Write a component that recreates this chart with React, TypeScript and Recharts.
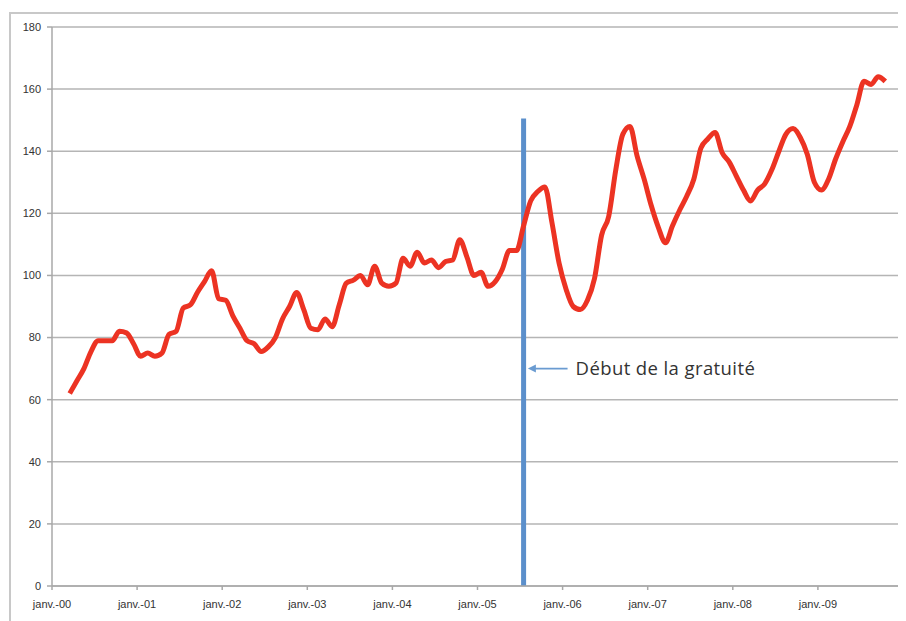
import React from 'react';
import {
  LineChart,
  Line,
  XAxis,
  YAxis,
  CartesianGrid,
  ReferenceLine,
} from 'recharts';

// monthly values, first one is March 2000 (month index 2 from janv.-00)
const firstMonth = 2;
const visits = [
  62, 66, 70, 75.5, 79, 79, 79, 82, 81.5, 78,
  74, 75, 74, 75, 81, 82, 89.5, 90.5, 94.5, 98, 101.5, 92.5,
  92, 87, 83, 79, 78, 75.5, 77, 80, 86, 90, 94.5, 89,
  83, 82.5, 86, 83.5, 90.5, 97.5, 98.5, 100, 97, 103, 97.5, 96.5,
  97.5, 105.5, 103, 107.5, 104, 105, 102.5, 104.5, 105, 111.5, 106, 100,
  101, 96.5, 98, 102, 108, 108, 116, 124, 127, 128.5, 117, 104,
  95.5, 90, 89, 92, 99, 113, 119, 134, 145.5, 148, 138.5, 131,
  122.5, 115.5, 110.5, 116, 121, 125.5, 131, 141, 144, 146, 139.5, 136.5,
  132, 127.5, 124, 127.5, 129.5, 134, 140, 145.5, 147.3, 144.5, 139, 130,
  127.5, 131, 137.5, 143, 148, 155, 162.5, 161.5, 164, 162.5,
];

const yearLabels = [
  'janv.-00', 'janv.-01', 'janv.-02', 'janv.-03', 'janv.-04',
  'janv.-05', 'janv.-06', 'janv.-07', 'janv.-08', 'janv.-09', '',
];
const yTicks = [0, 20, 40, 60, 80, 100, 120, 140, 160, 180];

// free access starts July 2005
const freeMonth = 66.5;
const freeLineTop = 150.5;
const noteValue = 70;
const noteLabel = 'Début de la gratuité';

const data = visits.map((v, i) => ({ m: firstMonth + i + 0.5, v }));
const xTicks = yearLabels.map((_, i) => i * 12);

const axisTick = { fill: '#333', fontSize: 11, fontFamily: 'Liberation Sans, Arial, sans-serif' };

const ArrowNote = (props: any) => {
  const { x1, y1, x2, y2 } = props;
  const left = Math.min(x1, x2);
  const right = Math.max(x1, x2);
  const y = (y1 + y2) / 2;
  return (
    <g>
      <line x1={left + 4} y1={y} x2={right} y2={y} stroke="#6a9bd1" strokeWidth={1.6} />
      <path
        d={`M${left},${y} L${left + 8},${y - 4} L${left + 8},${y + 4} Z`}
        fill="#6a9bd1"
      />
      <text
        x={right + 8}
        y={y}
        dy="0.35em"
        fill="#333"
        fontSize={18.5}
        letterSpacing={0.4}
        fontFamily="Open Sans, sans-serif"
      >
        {noteLabel}
      </text>
    </g>
  );
};

export default function App() {
  return (
    <div style={{ position: 'relative', width: 898, height: 613, overflow: 'hidden', background: '#fff' }}>
      <div
        style={{
          position: 'absolute',
          left: 1,
          top: 4,
          width: 910,
          height: 620,
          border: '2px solid #c8c8c8',
          boxSizing: 'border-box',
        }}
      />
      <div style={{ position: 'absolute', left: 0, top: 0 }}>
        <LineChart
          width={898}
          height={613}
          data={data}
          margin={{ top: 19, right: 3, left: 0, bottom: 0 }}
        >
          <CartesianGrid vertical={false} stroke="#b5b5b5" strokeWidth={1.5} />
          <XAxis
            dataKey="m"
            type="number"
            domain={[0, 120]}
            ticks={xTicks}
            tickFormatter={(t: number) => yearLabels[Math.round(t / 12)]}
            interval={0}
            height={35}
            tick={axisTick}
            tickSize={4}
            tickMargin={10}
            stroke="#a8a8a8"
            strokeWidth={1.5}
            allowDataOverflow
          />
          <YAxis
            domain={[0, 180]}
            ticks={yTicks}
            width={44}
            tick={axisTick}
            tickSize={5}
            tickMargin={6}
            stroke="#a8a8a8"
            strokeWidth={1.5}
          />
          <ReferenceLine
            segment={[
              { x: freeMonth, y: 0 },
              { x: freeMonth, y: freeLineTop },
            ]}
            stroke="#5b8fcb"
            strokeWidth={5}
          />
          <Line
            type="monotone"
            dataKey="v"
            stroke="#ec3323"
            strokeWidth={5}
            dot={false}
            isAnimationActive={false}
          />
          <ReferenceLine
            segment={[
              { x: freeMonth + 0.6, y: noteValue },
              { x: freeMonth + 6.2, y: noteValue },
            ]}
            shape={ArrowNote}
          />
        </LineChart>
      </div>
    </div>
  );
}
